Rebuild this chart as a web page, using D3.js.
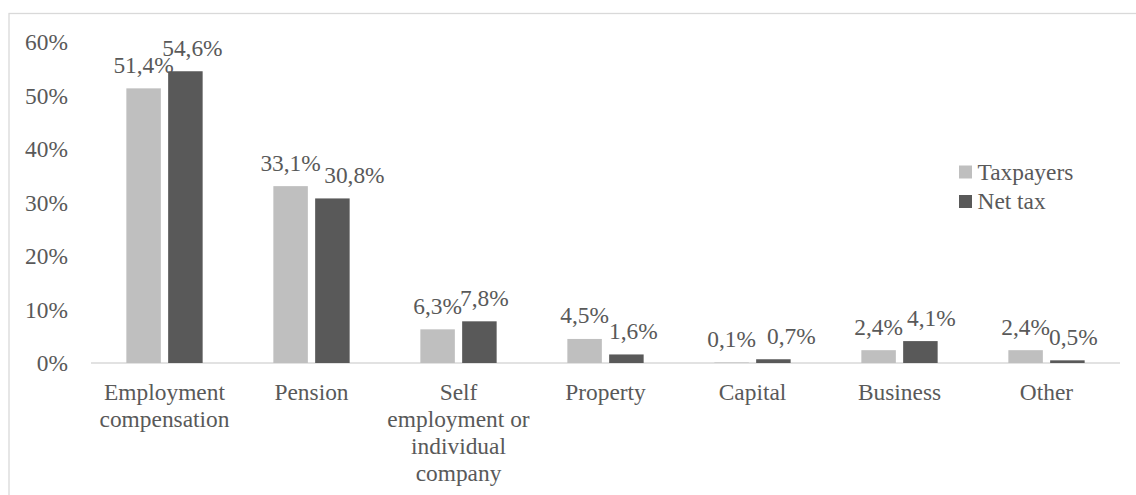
<!DOCTYPE html>
<html><head><meta charset="utf-8">
<script src="https://cdn.jsdelivr.net/npm/d3@7"></script>
</head>
<body style="margin:0">
<svg id="c" width="1136" height="495" style="display:block"></svg>
<script>
const categories = [["Employment","compensation"],["Pension"],["Self","employment or","individual","company"],["Property"],["Capital"],["Business"],["Other"]];
const seriesNames = ["Taxpayers","Net tax"];
const taxpayers = [51.4,33.1,6.3,4.5,0.1,2.4,2.4];
const netTax = [54.6,30.8,7.8,1.6,0.7,4.1,0.5];
const yTicks = [0,10,20,30,40,50,60];
// label nudges (px) as in the original manual placement
const netLabelNudge = [7,22,5,7,18,11,6];

const colors = ["#BFBFBF","#595959"];
const svg = d3.select("#c");
const fs = 23.4;
const ff = "Liberation Serif";
const tc = "#595959";

svg.append("rect").attr("x",9).attr("y",13.5).attr("width",1140).attr("height",500)
  .attr("fill","none").attr("stroke","#D9D9D9").attr("stroke-width",1.3);

const x0 = d3.scaleBand().domain(d3.range(categories.length)).range([91,1120]).paddingInner(0).paddingOuter(0);
const y = d3.scaleLinear().domain([0,60]).range([363,42.4]);
const bw = 34.5, gap = 7.3;

// y axis labels
svg.append("g").selectAll("text").data(yTicks).join("text")
  .attr("x",68).attr("y",d=>y(d)+8).attr("text-anchor","end")
  .attr("font-family",ff).attr("font-size",fs).attr("fill",tc).text(d=>d+"%");

// baseline
svg.append("line").attr("x1",91).attr("x2",1120).attr("y1",y(0)).attr("y2",y(0))
  .attr("stroke","#D9D9D9").attr("stroke-width",1.3);

const series = [taxpayers, netTax];
const fmt = v => d3.format(".1f")(v).replace(".",",")+"%";
series.forEach((vals,si)=>{
  const g = svg.append("g");
  g.selectAll("rect").data(vals).join("rect")
    .attr("x",(d,i)=>x0(i)+x0.bandwidth()/2 + (si===0 ? -gap/2-bw : gap/2))
    .attr("y",d=>y(d)).attr("width",bw).attr("height",d=>y(0)-y(d))
    .attr("fill",colors[si]);
  g.selectAll("text").data(vals).join("text")
    .attr("x",(d,i)=>x0(i)+x0.bandwidth()/2 + (si===0 ? -gap/2-bw/2 : gap/2+bw/2) + (si===1?netLabelNudge[i]:0))
    .attr("y",d=>y(d)-15.5).attr("text-anchor","middle").attr("font-family",ff).attr("font-size",fs).attr("fill",tc)
    .text(d=>fmt(d));
});

// category labels
const cl = svg.append("g");
categories.forEach((lines,i)=>{
  const t = cl.append("text").attr("text-anchor","middle").attr("font-family",ff).attr("font-size",fs).attr("fill",tc)
    .attr("x",x0(i)+x0.bandwidth()/2).attr("y",399.5);
  lines.forEach((l,j)=>t.append("tspan").attr("x",x0(i)+x0.bandwidth()/2).attr("dy",j===0?0:27.1).text(l));
});

// legend
const lg = svg.append("g");
seriesNames.forEach((n,i)=>{
  lg.append("rect").attr("x",959).attr("y",165.5+i*29.5).attr("width",13).attr("height",13).attr("fill",colors[i]);
  lg.append("text").attr("x",977.5).attr("y",179.5+i*29.5).attr("font-family",ff).attr("font-size",fs).attr("fill",tc).text(n);
});
</script>
</body></html>
